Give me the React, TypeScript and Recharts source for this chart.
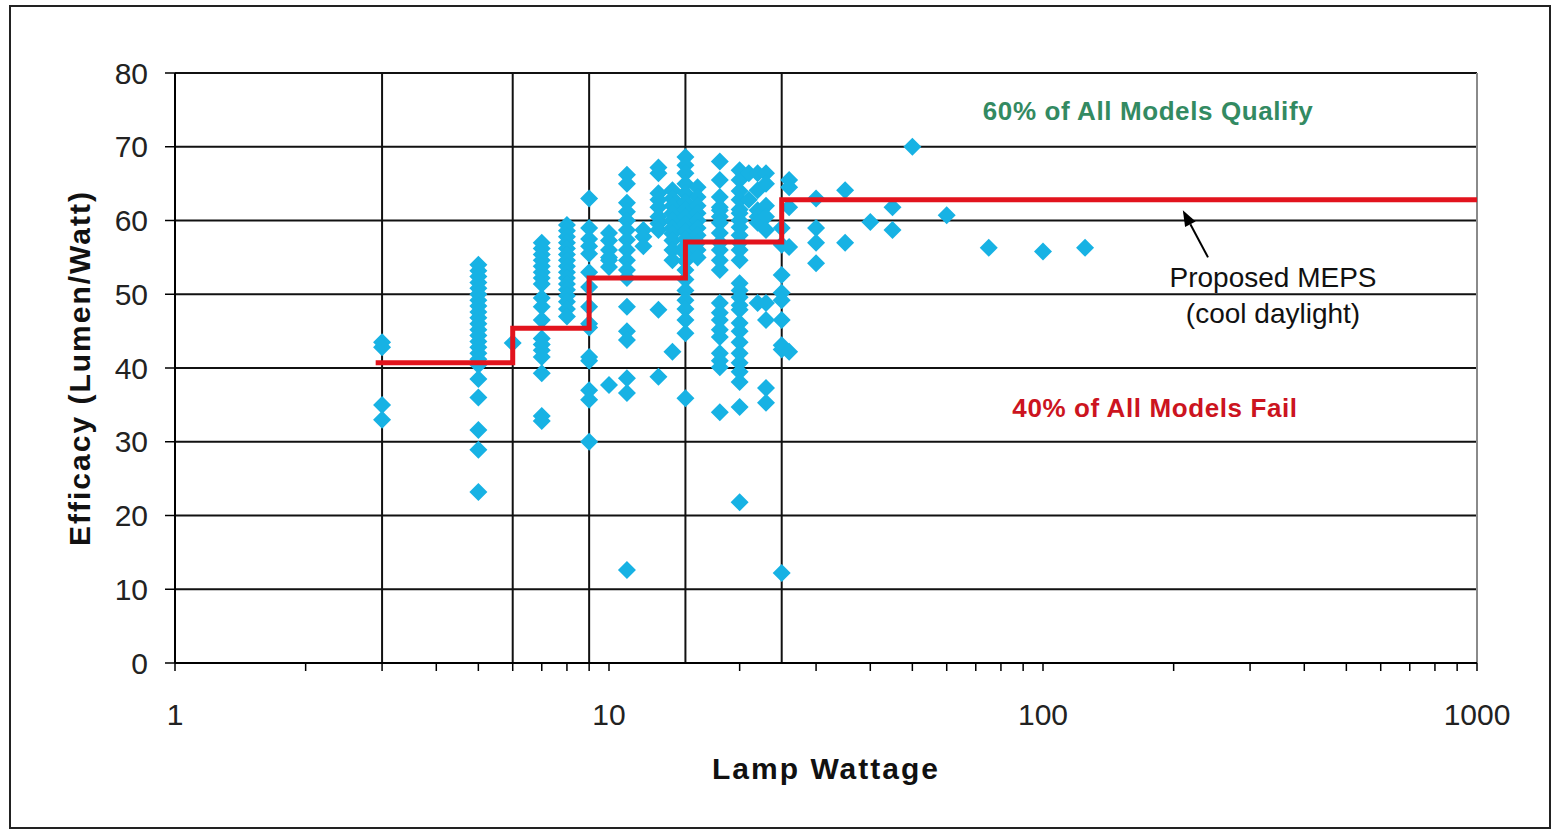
import React from 'react';
import { ScatterChart, Scatter, XAxis, YAxis, CartesianGrid, ReferenceLine, Label } from 'recharts';

// Lamp wattage of each column of measured models
const wattages = [3, 5, 6, 7, 8, 9, 10, 11, 12, 13, 14, 15, 16, 18, 20, 21, 22, 23, 25, 26, 30, 35, 40, 45, 50, 60, 75, 100, 125];

// Efficacy (lm/W) of the models at each wattage
const efficacyByWattage: number[][] = [
  [43.5, 42.8, 35, 33],
  [54, 53.2, 52.4, 51.6, 50.8, 50, 49.2, 48.4, 47.6, 46.8, 46, 45.2, 44.4, 43.6, 42.8, 42, 41.2, 40.4, 38.5, 36, 31.6, 28.9, 23.2],
  [43.4],
  [57, 56.2, 55.4, 54.6, 53.8, 53, 52.2, 51.4, 49.5, 48.3, 46.5, 44, 43.2, 42.4, 41.5, 39.3, 33.5, 32.8],
  [59.4, 58.6, 57.8, 57, 56.2, 55.4, 54.6, 53.8, 53, 52.2, 51.4, 50.6, 49.8, 49, 48, 47],
  [63, 59, 57.5, 56.5, 55.5, 53, 51, 48.3, 46, 45.5, 41.5, 41, 37, 35.7, 30],
  [58.3, 57.3, 56, 55, 54.6, 53.7, 37.7],
  [66.2, 65, 62.4, 61.2, 60, 58.7, 57.4, 56, 54.6, 53.3, 52.2, 48.3, 45, 43.8, 38.6, 36.6, 12.6],
  [58.7, 57.8, 56.5],
  [67.2, 66.4, 63.7, 62.8, 61.8, 60.5, 59.6, 58.7, 47.9, 38.8],
  [64.1, 63, 62, 61, 60, 59, 58.2, 57.3, 56, 54.6, 42.2],
  [68.6, 67.5, 66.4, 65, 63.7, 62.5, 61.5, 60.5, 59.5, 58.5, 57.5, 56.5, 55.5, 54.5, 53.3, 52, 50.5, 49.2, 48, 46.5, 44.7, 35.9],
  [64.5, 63.2, 62, 61, 60, 59, 58, 57, 56, 55],
  [68, 65.5, 63.2, 61.8, 61.4, 60.5, 59.7, 58.3, 57, 56, 54.6, 53.3, 48.8, 47.5, 46.5, 45.2, 44.2, 42, 41, 40.1, 34],
  [66.8, 65.5, 64, 62.8, 61.5, 61, 60, 59.1, 58, 57, 56, 54.6, 51.5, 50.5, 49.6, 48.5, 47.9, 46.1, 45, 43.5, 42, 40.7, 39.5, 38.1, 34.7, 21.8],
  [66.4, 62.8],
  [66.4, 64.1, 61.4, 60.5, 59.7, 48.8],
  [66.4, 65, 62, 60.5, 58.7, 48.8, 46.5, 37.3, 35.3],
  [59, 56.7, 52.6, 50.2, 49.2, 46.5, 43.1, 42.5, 12.2],
  [65.5, 64.5, 61.8, 56.4, 42.2],
  [63, 59, 57, 54.2],
  [64.1, 57],
  [59.8],
  [61.8, 58.7],
  [70],
  [60.7],
  [56.3],
  [55.8],
  [56.3],
];

// Proposed MEPS step line (cool daylight)
const mepsWatts = [2.9, 6, 6, 9, 9, 15, 15, 25, 25, 1000];
const mepsEfficacy = [40.7, 40.7, 45.4, 45.4, 52.2, 52.2, 57.1, 57.1, 62.8, 62.8];

// Band boundaries (vertical lines)
const bandWatts = [3, 6, 9, 15, 25];

const xTicks = [1, 2, 3, 4, 5, 6, 7, 8, 9, 10, 20, 30, 40, 50, 60, 70, 80, 90, 100, 200, 300, 400, 500, 600, 700, 800, 900, 1000];
const xLabelTicks = [1, 10, 100, 1000];
const yTicks = [0, 10, 20, 30, 40, 50, 60, 70, 80];

const points = wattages.flatMap((w, i) => efficacyByWattage[i].map((e) => ({ w, e })));
const meps = mepsWatts.map((w, i) => ({ w, e: mepsEfficacy[i] }));

const FONT = '"Liberation Sans", Arial, Helvetica, sans-serif';

const Diamond = (props: any) => {
  const { cx, cy } = props;
  if (cx == null || cy == null) return <g />;
  const r = 9;
  return <polygon points={`${cx},${cy - r} ${cx + r},${cy} ${cx},${cy + r} ${cx - r},${cy}`} fill="#17b2e4" />;
};

const XTick = (props: any) => {
  const { x, y, payload } = props;
  if (!xLabelTicks.includes(payload.value)) return <g />;
  return (
    <text x={x} y={y + 52} textAnchor="middle" fontSize={30} fontFamily={FONT} fill="#222">
      {payload.value}
    </text>
  );
};

const Arrow = (props: any) => {
  const { x1, y1, x2, y2 } = props;
  if ([x1, y1, x2, y2].some((v) => v == null || isNaN(v))) return <g />;
  const dx = x2 - x1;
  const dy = y2 - y1;
  const len = Math.sqrt(dx * dx + dy * dy);
  const ux = dx / len;
  const uy = dy / len;
  const hl = 16;
  const hw = 6;
  const bx = x2 - ux * hl;
  const by = y2 - uy * hl;
  return (
    <g>
      <line x1={x1} y1={y1} x2={bx} y2={by} stroke="#000" strokeWidth={2} />
      <polygon
        points={`${x2},${y2} ${bx - uy * hw},${by + ux * hw} ${bx + uy * hw},${by - ux * hw}`}
        fill="#000"
      />
    </g>
  );
};

export default function App() {
  return (
    <div style={{ position: 'absolute', left: 0, top: 0, width: 1560, height: 832, background: '#fff', fontFamily: FONT }}>
      <div style={{ position: 'absolute', left: 9, top: 5, width: 1542, height: 824, border: '2px solid #222', boxSizing: 'border-box' }} />
      <div style={{ position: 'absolute', left: 0, top: 0 }}>
        <ScatterChart width={1560} height={832} margin={{ top: 73, right: 83, bottom: 0, left: 0 }}>
          <CartesianGrid vertical={false} stroke="#111" strokeWidth={2} />
          <XAxis
            dataKey="w"
            type="number"
            scale="log"
            domain={[1, 1000]}
            ticks={xTicks}
            interval={0}
            allowDataOverflow
            height={169}
            tickSize={8}
            axisLine={{ stroke: '#000', strokeWidth: 2 }}
            tickLine={{ stroke: '#000', strokeWidth: 1.5 }}
            tick={<XTick />}
          >
            <Label
              content={(p: any) => {
                const vb = p.viewBox || { x: 175, y: 663, width: 1302 };
                return (
                  <text x={vb.x + vb.width / 2} y={vb.y + 116} textAnchor="middle" fontSize={30} fontWeight="bold" fontFamily={FONT} fill="#111" letterSpacing={2}>
                    Lamp Wattage
                  </text>
                );
              }}
            />
          </XAxis>
          <YAxis
            dataKey="e"
            type="number"
            domain={[0, 80]}
            ticks={yTicks}
            interval={0}
            width={175}
            tickSize={10}
            tickMargin={17}
            axisLine={{ stroke: '#000', strokeWidth: 2 }}
            tickLine={{ stroke: '#000', strokeWidth: 1.5 }}
            tick={{ fontSize: 30, fill: '#222', fontFamily: FONT }}
          >
            <Label
              content={(p: any) => {
                const vb = p.viewBox || { x: 0, y: 73, height: 590 };
                const cx = vb.x + 90;
                const cy = vb.y + vb.height / 2;
                return (
                  <text x={cx} y={cy} transform={`rotate(-90, ${cx}, ${cy})`} textAnchor="middle" fontSize={30} fontWeight="bold" fontFamily={FONT} fill="#111" letterSpacing={2}>
                    Efficacy (Lumen/Watt)
                  </text>
                );
              }}
            />
          </YAxis>
          {bandWatts.map((w) => (
            <ReferenceLine key={w} x={w} stroke="#111" strokeWidth={2} />
          ))}
          <ReferenceLine x={1000} stroke="#8a8a8a" strokeWidth={2} />
          <Scatter data={points} shape={<Diamond />} isAnimationActive={false} />
          <Scatter
            data={meps}
            line={{ stroke: '#e2131d', strokeWidth: 5 }}
            lineType="joint"
            shape={() => <g />}
            isAnimationActive={false}
          />
          <ReferenceLine segment={[{ x: 240, y: 55 }, { x: 210, y: 61.4 }]} shape={<Arrow />} />
        </ScatterChart>
      </div>
      <svg width={1560} height={832} style={{ position: 'absolute', left: 0, top: 0, pointerEvents: 'none' }}>
        <text x={1148} y={120} textAnchor="middle" fontSize={26} fontWeight="bold" fontFamily={FONT} fill="#338a62" letterSpacing={0.6}>
          60% of All Models Qualify
        </text>
        <text x={1155} y={417} textAnchor="middle" fontSize={26} fontWeight="bold" fontFamily={FONT} fill="#cc1420" letterSpacing={0.6}>
          40% of All Models Fail
        </text>
        <text x={1273} y={287} textAnchor="middle" fontSize={28} fontFamily={FONT} fill="#111">
          Proposed MEPS
        </text>
        <text x={1273} y={323} textAnchor="middle" fontSize={28} fontFamily={FONT} fill="#111">
          (cool daylight)
        </text>
      </svg>
    </div>
  );
}
